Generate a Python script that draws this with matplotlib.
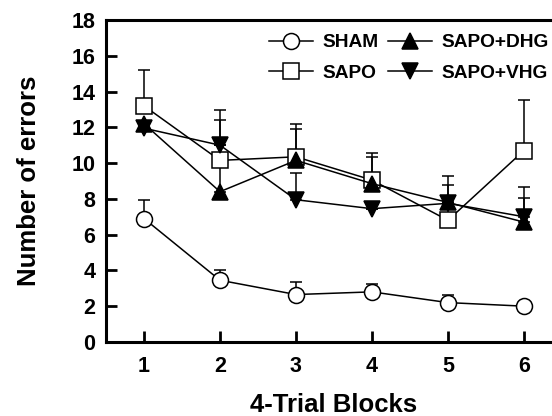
import numpy as np
from matplotlib import pyplot as plt

plt.rcParams['font.family'] = ['Liberation Sans', 'DejaVu Sans']
plt.rcParams['font.weight'] = 'bold'

blocks = [1, 2, 3, 4, 5, 6]

sham = [6.9, 3.45, 2.65, 2.8, 2.2, 2.0]
sham_err = [1.05, 0.55, 0.7, 0.45, 0.4, 0.0]

sapo = [13.2, 10.15, 10.35, 9.05, 6.8, 10.7]
sapo_err = [2.0, 2.8, 1.85, 1.5, 2.0, 2.8]

sapo_dhg = [12.2, 8.4, 10.15, 8.85, 7.8, 6.7]
sapo_dhg_err = [0.0, 4.0, 1.75, 1.5, 1.5, 1.95]

sapo_vhg = [11.95, 11.0, 7.95, 7.45, 7.75, 7.0]
sapo_vhg_err = [0.0, 0.0, 1.5, 0.0, 0.0, 1.05]

fig = plt.figure(figsize=(5.52, 4.16), dpi=100)
ax = fig.add_axes([0.192, 0.178, 0.826, 0.774])

series = [
    ('SHAM', sham, sham_err, 'o', 'white'),
    ('SAPO', sapo, sapo_err, 's', 'white'),
    ('SAPO+DHG', sapo_dhg, sapo_dhg_err, '^', 'black'),
    ('SAPO+VHG', sapo_vhg, sapo_vhg_err, 'v', 'black'),
]

handles = {}
for name, vals, err, mk, fc in series:
    ax.errorbar(blocks, vals, yerr=[np.zeros(len(err)), err], fmt='none',
                ecolor='black', elinewidth=1.1, capsize=4, capthick=1.1, zorder=2)
    h, = ax.plot(blocks, vals, color='black', lw=1.1, marker=mk, markersize=11.5,
                 markerfacecolor=fc, markeredgecolor='black', markeredgewidth=1.1,
                 zorder=3)
    handles[name] = h

order = ['SHAM', 'SAPO', 'SAPO+DHG', 'SAPO+VHG']
ax.legend([handles[n] for n in order], order, ncol=2, loc='upper right',
          bbox_to_anchor=(549 / 552, 1 - 34 / 416), bbox_transform=fig.transFigure,
          frameon=False, fontsize=13.8, borderaxespad=0, borderpad=0,
          handlelength=2.3, handletextpad=0.5, columnspacing=0.5,
          labelspacing=0.68)

ax.set_xlim(0.5, 6.5)
ax.set_ylim(0, 18)
ax.set_xticks(blocks)
ax.set_yticks(np.arange(0, 19, 2))
ax.tick_params(direction='in', length=8, width=2, labelsize=15.5, pad=10)
ax.tick_params(axis='y', pad=7.5)
for lab in ax.get_xticklabels() + ax.get_yticklabels():
    lab.set_fontweight('bold')
for s in ax.spines.values():
    s.set_linewidth(2.2)

ax.set_xlabel('4-Trial Blocks', fontsize=18.5, fontweight='bold', labelpad=11.5)
ax.set_ylabel('Number of errors', fontsize=18.5, fontweight='bold', labelpad=22)

fig.savefig('out.png', dpi=100)
